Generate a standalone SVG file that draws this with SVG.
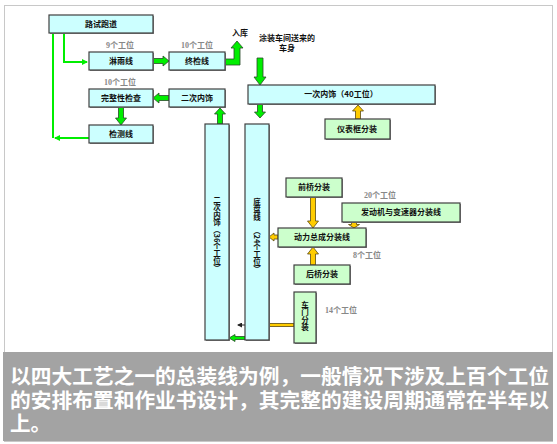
<svg xmlns="http://www.w3.org/2000/svg" width="557" height="444" viewBox="0 0 557 444">
<defs>
<style>
.bc{fill:#ccffff;stroke:#404040;stroke-width:1.2}
.bg{fill:#ccffcc;stroke:#404040;stroke-width:1.2}
.sh{fill:#888}
.t{font-family:"Noto Sans CJK SC","Noto Sans",sans-serif;font-size:8px;font-weight:bold;fill:#111;text-anchor:middle}
.lb{font-family:"Liberation Serif","Noto Sans CJK SC",serif;font-size:8px;font-weight:bold;fill:#888;text-anchor:middle}
.v{font-family:"Noto Sans CJK SC","Noto Sans",sans-serif;font-size:7.5px;font-weight:bold;fill:#111;writing-mode:vertical-rl;text-orientation:mixed}
.ga{fill:#00ee00;stroke:#2a4a2a;stroke-width:0.8}
.ya{fill:#ffcc00;stroke:#5a4a10;stroke-width:0.8}
.gl{fill:none;stroke:#00ee00;stroke-width:2}
.cap{font-family:"Noto Sans CJK SC","Noto Sans",sans-serif;font-size:20.6px;font-weight:bold;fill:#ffffff}
</style>
<marker id="mg" markerWidth="6" markerHeight="6" refX="5" refY="3" orient="auto" markerUnits="userSpaceOnUse">
<path d="M0,0 L6,3 L0,6 Z" fill="#00ee00"/>
</marker>
<marker id="mk" markerWidth="5" markerHeight="5" refX="4" refY="2.5" orient="auto" markerUnits="userSpaceOnUse">
<path d="M0,0 L5,2.5 L0,5 Z" fill="#222"/>
</marker>
</defs>
<rect x="0" y="0" width="557" height="444" fill="#ffffff"/>
<rect x="4.5" y="5.5" width="548" height="436" fill="#ffffff" stroke="#c8c8c8" stroke-width="1"/>

<g id="connectors">
<path class="gl" d="M64,33 V62 H87" marker-end="url(#mg)"/>
<path class="gl" d="M53,33 V138"/>
<path class="gl" d="M89,138 H55" marker-end="url(#mg)"/>
<polygon class="ga" points="153,58.5 163,58.5 163,56 169,61 163,66 163,63.5 153,63.5"/>
<polygon class="ga" points="169,95.5 159,95.5 159,93 153,98 159,103 159,100.5 169,100.5"/>
<polygon class="ga" points="118.5,107 123.5,107 123.5,118 126.5,118 121,125 115.5,118 118.5,118"/>
<polygon class="ga" points="217.5,124 222.5,124 222.5,114 225.5,114 220,108 214.5,114 217.5,114"/>
<polygon class="ga" points="225,59 234,59 234,48 231,48 237,41 243,48 240,48 240,65 225,65"/>
<polygon class="ga" points="257,58 263,58 263,77 266,77 260,85 254,77 257,77"/>
<polygon class="ga" points="257.5,104 262.5,104 262.5,112 265.5,112 260,118 254.5,112 257.5,112"/>
<polygon class="ya" points="355.5,119 360.5,119 360.5,111 363.5,111 358,105 352.5,111 355.5,111"/>
<polygon class="ya" points="310.5,197 315.5,197 315.5,221 318.5,221 313,228 307.5,221 310.5,221"/>
<polygon class="ya" points="351.5,222 356.5,222 356.5,224.5 359.5,224.5 354,228 348.5,224.5 351.5,224.5"/>
<polygon class="ya" points="310.5,265 315.5,265 315.5,254 318.5,254 313,247 307.5,254 310.5,254"/>
<polygon class="ya" points="278,235 274,235 274,233 269,237 274,241 274,239 278,239"/>
<rect class="ya" x="269" y="323.5" width="25" height="3"/>
<path d="M245,325 H238" stroke="#222" stroke-width="1" marker-end="url(#mk)"/>
<polygon class="ga" points="245,336.5 235,336.5 235,334.5 229,338 235,341.5 235,339.5 245,339.5"/>
</g>

<g id="n_lushi"><rect class="sh" x="50" y="16" width="104" height="18"/><rect class="bc" x="49" y="15" width="104" height="18"/><text class="t" x="101" y="27">路试跑道</text></g>
<g id="n_linyu"><rect class="sh" x="90" y="53" width="64" height="18"/><rect class="bc" x="89" y="52" width="64" height="18"/><text class="t" x="121" y="64">淋雨线</text><text class="lb" x="120" y="48">9个工位</text></g>
<g id="n_zhongjian"><rect class="sh" x="170" y="53" width="56" height="18"/><rect class="bc" x="169" y="52" width="56" height="18"/><text class="t" x="197" y="64">终检线</text><text class="lb" x="197" y="48">10个工位</text></g>
<g id="n_ruku"><text class="t" x="240" y="36">入库</text></g>
<g id="n_wanzheng"><rect class="sh" x="90" y="90" width="64" height="18"/><rect class="bc" x="89" y="89" width="64" height="18"/><text class="t" x="121" y="101">完整性检查</text><text class="lb" x="120" y="85">10个工位</text></g>
<g id="n_erci_s"><rect class="sh" x="170" y="90" width="56" height="18"/><rect class="bc" x="169" y="89" width="56" height="18"/><text class="t" x="197" y="101">二次内饰</text></g>
<g id="n_jiance"><rect class="sh" x="90" y="126" width="64" height="18"/><rect class="bc" x="89" y="125" width="64" height="18"/><text class="t" x="121" y="137">检测线</text></g>
<g id="n_tuzhuang"><text class="t" x="287" y="41">涂装车间送来的</text><text class="t" x="287" y="51">车身</text></g>
<g id="n_yici"><rect class="sh" x="249" y="86" width="187" height="19"/><rect class="bc" x="248" y="85" width="187" height="19"/><text class="t" x="341" y="97">一次内饰（40工位）</text></g>
<g id="n_yibiao"><rect class="sh" x="326" y="120" width="65" height="20"/><rect class="bg" x="325" y="119" width="65" height="20"/><text class="t" x="357" y="132">仪表框分装</text></g>
<g id="n_erci_l"><rect class="sh" x="206" y="125" width="24" height="216"/><rect class="bc" x="205" y="124" width="24" height="216"/><text class="v" x="217" y="196">二次内饰（36个工位）</text></g>
<g id="n_dipan"><rect class="sh" x="246" y="125" width="24" height="216"/><rect class="bc" x="245" y="124" width="24" height="216"/><text class="v" x="257" y="198">底盘线</text><text class="v" x="257" y="227">（24个工位）</text></g>
<g id="n_qianqiao"><rect class="sh" x="287" y="179" width="56" height="19"/><rect class="bg" x="286" y="178" width="56" height="19"/><text class="t" x="314" y="190">前桥分装</text></g>
<g id="n_fadongji"><rect class="sh" x="343" y="204" width="118" height="19"/><rect class="bg" x="342" y="203" width="118" height="19"/><text class="t" x="401" y="215">发动机与变速器分装线</text><text class="lb" x="380" y="198">20个工位</text></g>
<g id="n_dongli"><rect class="sh" x="279" y="229" width="88" height="19"/><rect class="bg" x="278" y="228" width="88" height="19"/><text class="t" x="322" y="240">动力总成分装线</text><text class="lb" x="367" y="258">8个工位</text></g>
<g id="n_houqiao"><rect class="sh" x="295" y="266" width="56" height="19"/><rect class="bg" x="294" y="265" width="56" height="19"/><text class="t" x="322" y="277">后桥分装</text></g>
<g id="n_chemen"><rect class="sh" x="295" y="293" width="22" height="51"/><rect class="bg" x="294" y="292" width="22" height="51"/><text class="v" x="305" y="301">车门分装</text><text class="lb" x="341" y="313">14个工位</text></g>

<g id="caption">
<rect x="3" y="352" width="550" height="89" fill="#a3a3a3"/>
<text class="cap" x="10" y="384" textLength="539" lengthAdjust="spacingAndGlyphs">以四大工艺之一的总装线为例，一般情况下涉及上百个工位</text>
<text class="cap" x="10" y="407.5" textLength="539" lengthAdjust="spacingAndGlyphs">的安排布置和作业书设计，其完整的建设周期通常在半年以</text>
<text class="cap" x="10" y="431">上。</text>
</g>
</svg>
